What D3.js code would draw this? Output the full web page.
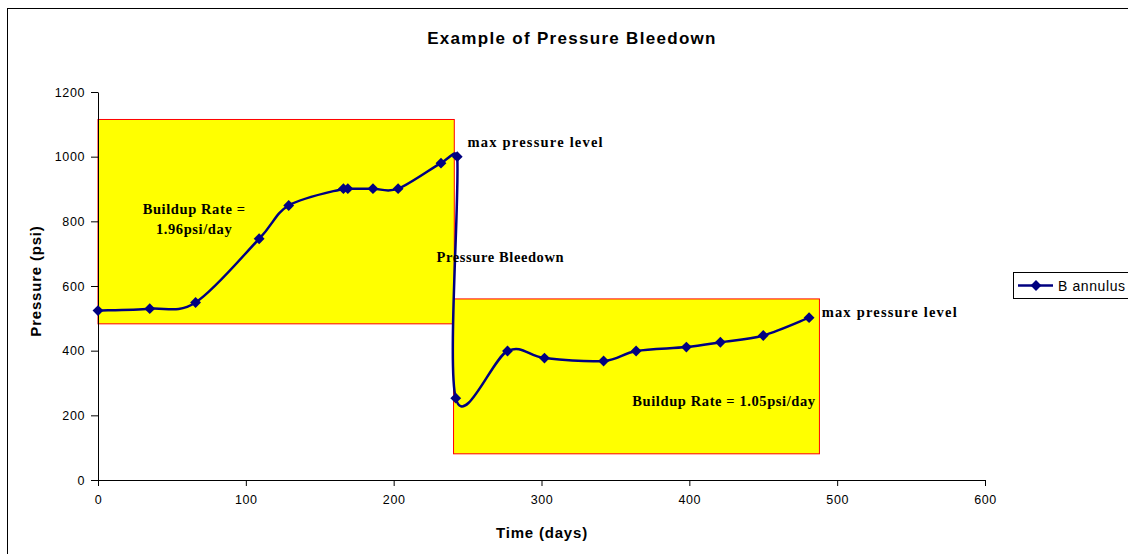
<!DOCTYPE html>
<html>
<head>
<meta charset="utf-8">
<script src="https://cdn.jsdelivr.net/npm/d3@7"></script>
<style>
  body { margin: 0; background: #fff; }
  svg { display: block; }
  .tick text { font-family: "Liberation Sans", Arial, sans-serif; font-size: 12.5px; letter-spacing: 0.6px; fill: #000; }
  .axis path, .axis line { stroke: #000; }
  .note { font-family: "Liberation Serif", "Times New Roman", serif; font-weight: bold; font-size: 14.5px; letter-spacing: 0.6px; }
  .lbl { font-family: "Liberation Sans", Arial, sans-serif; font-weight: bold; }
</style>
</head>
<body>
<svg width="1128" height="554"></svg>
<script>
// data
var days     = [0, 35, 66, 109, 129, 166, 169, 186, 203, 232, 243, 242, 277, 302, 342, 364, 398, 421, 450, 481];
var pressure = [524, 530, 549, 746, 849, 901, 901, 901, 901, 980, 1000, 253, 399, 377, 368, 399, 411, 426, 447, 502];
var xTicks = [0, 100, 200, 300, 400, 500, 600];
var yTicks = [0, 200, 400, 600, 800, 1000, 1200];
// highlighted boxes, in data units [x0, x1, y0, y1]
var boxes = [[0, 241, 483, 1115], [240.5, 488, 81, 560]];
var seriesName = "B annulus";

var svg = d3.select("svg");
var margin = {top: 92, left: 98},
    width = 887,
    height = 388;

// chart frame
svg.append("rect")
    .attr("x", 7.5).attr("y", 8.5)
    .attr("width", 1140).attr("height", 560)
    .attr("fill", "none").attr("stroke", "#000");

var g = svg.append("g").attr("transform", "translate(" + margin.left + "," + margin.top + ")");

var x = d3.scaleLinear().domain([0, 600]).range([0, width]);
var y = d3.scaleLinear().domain([0, 1200]).range([height, 0]);

g.selectAll(".box")
    .data(boxes)
  .enter().append("rect")
    .attr("class", "box")
    .attr("x", function(d) { return x(d[0]); })
    .attr("y", function(d) { return y(d[3]); })
    .attr("width", function(d) { return x(d[1]) - x(d[0]); })
    .attr("height", function(d) { return y(d[2]) - y(d[3]); })
    .attr("fill", "#ffff00")
    .attr("stroke", "#ff0000")
    .attr("stroke-width", 1);

g.append("g")
    .attr("class", "axis")
    .attr("transform", "translate(0," + height + ")")
    .call(d3.axisBottom(x).tickValues(xTicks).tickFormat(d3.format("d")).tickSize(6).tickPadding(9).tickSizeOuter(0));

g.append("g")
    .attr("class", "axis")
    .call(d3.axisLeft(y).tickValues(yTicks).tickFormat(d3.format("d")).tickSize(7).tickPadding(6).tickSizeOuter(0));

// smoothing like the spreadsheet: catmull-rom tangents, clamped to half of the neighbouring segment
function SmoothCurve(context) { this._context = context; }
SmoothCurve.prototype = {
    areaStart: function() {}, areaEnd: function() {},
    lineStart: function() { this._p = []; },
    point: function(px, py) { this._p.push([px, py]); },
    lineEnd: function() {
        var p = this._p, n = p.length, c = this._context;
        if (!n) return;
        c.moveTo(p[0][0], p[0][1]);
        function tan(i) {
            var a = p[Math.max(i - 1, 0)], b = p[Math.min(i + 1, n - 1)];
            return [(b[0] - a[0]) / 6, (b[1] - a[1]) / 6];
        }
        function clamp(t, len) {
            var l = Math.hypot(t[0], t[1]), k = 0.5 * len;
            return l > k && l > 0 ? [t[0] * k / l, t[1] * k / l] : t;
        }
        for (var i = 0; i < n - 1; i++) {
            var a = p[i], b = p[i + 1];
            var seg = Math.hypot(b[0] - a[0], b[1] - a[1]);
            var t0 = clamp(tan(i), seg), t1 = clamp(tan(i + 1), seg);
            c.bezierCurveTo(a[0] + t0[0], a[1] + t0[1], b[0] - t1[0], b[1] - t1[1], b[0], b[1]);
        }
    }
};
function smoothCurve(context) { return new SmoothCurve(context); }

var pts = days.map(function(d, i) { return [d, pressure[i]]; });

var line = d3.line()
    .x(function(d) { return x(d[0]); })
    .y(function(d) { return y(d[1]); })
    .curve(smoothCurve);

g.append("path")
    .datum(pts)
    .attr("d", line)
    .attr("fill", "none")
    .attr("stroke", "#000080")
    .attr("stroke-width", 2.5);

var diamond = d3.symbol().type(d3.symbolDiamond2).size(75);

g.selectAll(".pt")
    .data(pts)
  .enter().append("path")
    .attr("class", "pt")
    .attr("d", diamond)
    .attr("transform", function(d) { return "translate(" + x(d[0]) + "," + y(d[1]) + ")"; })
    .attr("fill", "#000080");

// annotations
function note(tx, ty, txt, anchor, ls) {
    var t = g.append("text").attr("class", "note")
        .attr("x", tx).attr("y", ty)
        .attr("text-anchor", anchor || "start")
        .text(txt);
    if (ls) t.style("letter-spacing", ls);
}
note(x(250), y(1000) - 10, "max pressure level", "start", "1.2px");
note(x(65), y(822), "Buildup Rate =", "middle");
note(x(65), y(762), "1.96psi/day", "middle");
note(x(229), y(675), "Pressure Bleedown");
note(x(489.5), y(505), "max pressure level", "start", "1.2px");
note(x(485.5), y(229), "Buildup Rate = 1.05psi/day", "end");

// titles
svg.append("text")
    .attr("class", "lbl")
    .attr("x", 572).attr("y", 44)
    .attr("text-anchor", "middle")
    .style("font-size", "17px").style("letter-spacing", "1.3px")
    .text("Example of Pressure Bleedown");

svg.append("text")
    .attr("class", "lbl")
    .attr("x", 542).attr("y", 538)
    .attr("text-anchor", "middle")
    .style("font-size", "15px").style("letter-spacing", "0.8px")
    .text("Time (days)");

svg.append("text")
    .attr("class", "lbl")
    .attr("transform", "translate(41,281) rotate(-90)")
    .attr("text-anchor", "middle")
    .style("font-size", "15px").style("letter-spacing", "0.8px")
    .text("Pressure (psi)");

// legend
var lg = svg.append("g").attr("transform", "translate(1013,272)");
lg.append("rect")
    .attr("x", 0.5).attr("y", 0.5)
    .attr("width", 140).attr("height", 26)
    .attr("fill", "#fff").attr("stroke", "#000");
lg.append("line")
    .attr("x1", 5).attr("x2", 40).attr("y1", 13.5).attr("y2", 13.5)
    .attr("stroke", "#000080").attr("stroke-width", 2.5);
lg.append("path")
    .attr("d", diamond)
    .attr("transform", "translate(23,13.5)")
    .attr("fill", "#000080");
lg.append("text")
    .attr("x", 45).attr("y", 18.5)
    .style("font-family", "'Liberation Sans', Arial, sans-serif")
    .style("font-size", "14px").style("letter-spacing", "0.6px")
    .text(seriesName);
</script>
</body>
</html>
